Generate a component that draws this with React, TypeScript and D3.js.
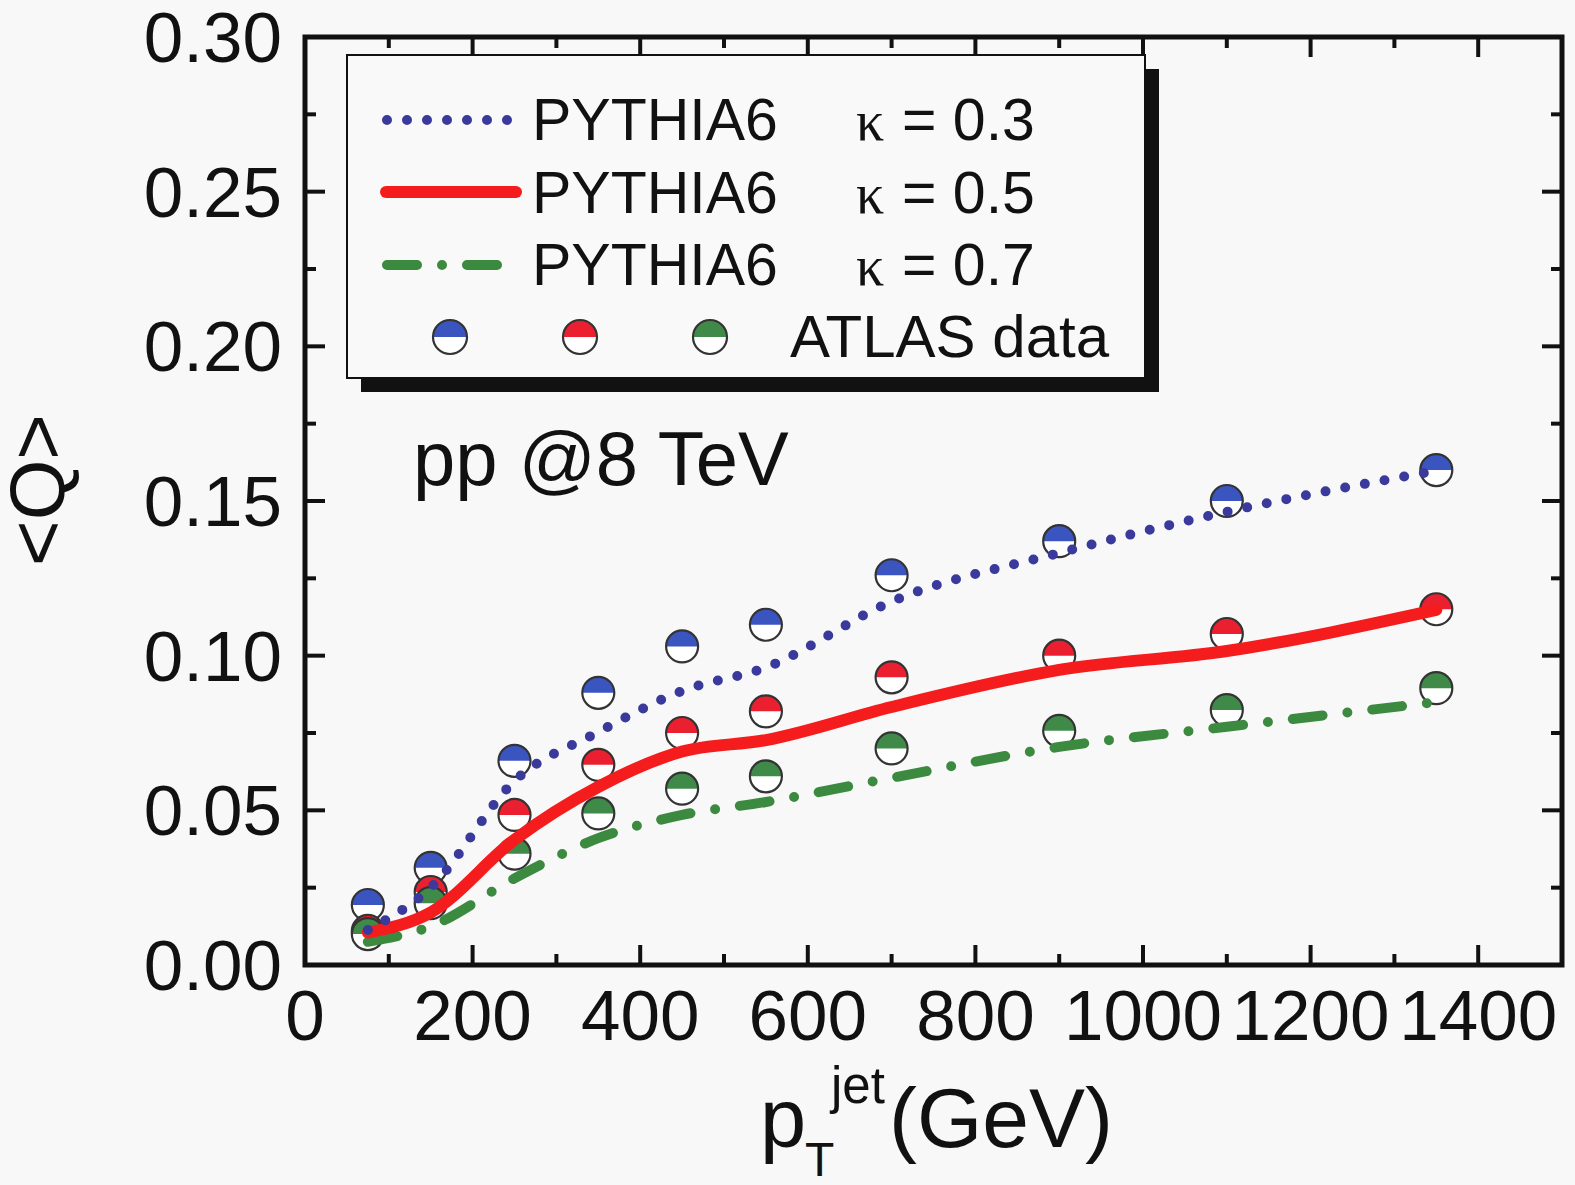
import React from "react";
import * as d3 from "d3";

const ptJet = [75, 150, 250, 350, 450, 550, 700, 900, 1100, 1350];
const atlasK03 = [0.0194, 0.0314, 0.066, 0.088, 0.103, 0.110, 0.126, 0.137, 0.150, 0.160];
const atlasK05 = [0.011, 0.0236, 0.0485, 0.0647, 0.075, 0.082, 0.093, 0.100, 0.107, 0.115];
const atlasK07 = [0.010, 0.020, 0.036, 0.049, 0.057, 0.061, 0.070, 0.0757, 0.0824, 0.0895];

const pythiaK03 = [0.0113, 0.025, 0.0595, 0.0753, 0.0886, 0.0962, 0.1175, 0.1332, 0.1465, 0.1598];
const pythiaK05 = [0.0105, 0.017, 0.0405, 0.0576, 0.069, 0.0727, 0.0834, 0.0954, 0.1015, 0.1148];
const pythiaK07 = [0.0075, 0.0125, 0.028, 0.041, 0.0485, 0.0527, 0.0605, 0.0705, 0.077, 0.085];

const xMajor = [0, 200, 400, 600, 800, 1000, 1200, 1400];
const xMinor = [100, 300, 500, 700, 900, 1100, 1300, 1500];
const yMajor = [0, 0.05, 0.1, 0.15, 0.2, 0.25, 0.3];
const yMinor = [0.025, 0.075, 0.125, 0.175, 0.225, 0.275];
const kappas = ["0.3", "0.5", "0.7"];

const FONT = "'Liberation Sans', Arial, sans-serif";
const BG = "#f8f8f8";

const x = d3.scaleLinear().domain([0, 1500]).range([305, 1562]);
const y = d3.scaleLinear().domain([0, 0.3]).range([965, 37]);

const blueLine = "#3a3a9c";
const redLine = "#f41c1c";
const greenLine = "#3c8a40";
const blueMk = "#3b55c0";
const redMk = "#ea2030";
const greenMk = "#3f8a48";

function Marker({ cx, cy, r, color }: { cx: number; cy: number; r: number; color: string }) {
  const top = `M${cx - r},${cy} A${r},${r} 0 0 1 ${cx + r},${cy} Z`;
  return (
    <g>
      <circle cx={cx} cy={cy} r={r} fill="#ffffff" />
      <path d={top} fill={color} />
      <circle cx={cx} cy={cy} r={r} fill="none" stroke="#333" strokeWidth={2.2} />
    </g>
  );
}

export default function App() {
  const line = d3
    .line<number>()
    .x((_, i) => x(ptJet[i]))
    .y((d) => y(d))
    .curve(d3.curveMonotoneX);

  const left = x(0), right = x(1500), top = y(0.3), bottom = y(0);
  const majL = 20, minL = 11;

  return (
    <svg width={1575} height={1185} style={{ position: "absolute", left: 0, top: 0 }}>
      <rect x={0} y={0} width={1575} height={1185} fill={BG} />

      {/* data markers */}
      {ptJet.map((p, i) => (
        <Marker key={"b" + i} cx={x(p)} cy={y(atlasK03[i])} r={16} color={blueMk} />
      ))}
      {ptJet.map((p, i) => (
        <Marker key={"r" + i} cx={x(p)} cy={y(atlasK05[i])} r={16} color={redMk} />
      ))}
      {ptJet.map((p, i) => (
        <Marker key={"g" + i} cx={x(p)} cy={y(atlasK07[i])} r={16} color={greenMk} />
      ))}

      {/* model curves */}
      <path d={line(pythiaK07) || ""} fill="none" stroke={greenLine} strokeWidth={10}
        strokeDasharray="30 25 0 25" strokeLinecap="round" />
      <path d={line(pythiaK05) || ""} fill="none" stroke={redLine} strokeWidth={12}
        strokeLinecap="round" strokeLinejoin="round" />
      <path d={line(pythiaK03) || ""} fill="none" stroke={blueLine} strokeWidth={10}
        strokeDasharray="0 20" strokeLinecap="round" />

      {/* ticks */}
      {xMajor.map((v) => (
        <g key={"xM" + v}>
          <line x1={x(v)} x2={x(v)} y1={bottom} y2={bottom - majL} stroke="#111" strokeWidth={4} />
          <line x1={x(v)} x2={x(v)} y1={top} y2={top + majL} stroke="#111" strokeWidth={4} />
        </g>
      ))}
      {xMinor.map((v) => (
        <g key={"xm" + v}>
          <line x1={x(v)} x2={x(v)} y1={bottom} y2={bottom - minL} stroke="#111" strokeWidth={4} />
          <line x1={x(v)} x2={x(v)} y1={top} y2={top + minL} stroke="#111" strokeWidth={4} />
        </g>
      ))}
      {yMajor.map((v) => (
        <g key={"yM" + v}>
          <line x1={left} x2={left + majL} y1={y(v)} y2={y(v)} stroke="#111" strokeWidth={4} />
          <line x1={right} x2={right - majL} y1={y(v)} y2={y(v)} stroke="#111" strokeWidth={4} />
        </g>
      ))}
      {yMinor.map((v) => (
        <g key={"ym" + v}>
          <line x1={left} x2={left + minL} y1={y(v)} y2={y(v)} stroke="#111" strokeWidth={4} />
          <line x1={right} x2={right - minL} y1={y(v)} y2={y(v)} stroke="#111" strokeWidth={4} />
        </g>
      ))}

      {/* frame */}
      <rect x={left} y={top} width={right - left} height={bottom - top} fill="none" stroke="#111" strokeWidth={5} />

      {/* tick labels */}
      {xMajor.map((v) => (
        <text key={"xl" + v} x={x(v)} y={1040} textAnchor="middle" fontFamily={FONT} fontSize={71} fill="#111">
          {String(v)}
        </text>
      ))}
      {yMajor.map((v) => (
        <text key={"yl" + v} x={282} y={y(v) + 25} textAnchor="end" fontFamily={FONT} fontSize={71} fill="#111">
          {v.toFixed(2)}
        </text>
      ))}

      {/* axis titles */}
      <text transform="translate(64,490) rotate(-90)" textAnchor="middle" fontFamily={FONT} fontSize={78} fill="#111">
        {"<Q>"}
      </text>
      <text x={760} y={1147} fontFamily={FONT} fontSize={83} fill="#111">p</text>
      <text x={805} y={1176} fontFamily={FONT} fontSize={48} fill="#111">T</text>
      <text x={831} y={1103} fontFamily={FONT} fontSize={51} fill="#111">jet</text>
      <text x={889} y={1147} fontFamily={FONT} fontSize={84} fill="#111">(GeV)</text>

      {/* annotation */}
      <text x={413} y={485} fontFamily={FONT} fontSize={76} fill="#111">pp @8 TeV</text>

      {/* legend */}
      <rect x={361} y={69} width={798} height={323} fill="#111" />
      <rect x={347} y={55} width={798} height={323} fill="#f9f9f9" stroke="#111" strokeWidth={2} />

      <line x1={387} x2={510} y1={120} y2={120} stroke={blueLine} strokeWidth={10} strokeDasharray="0 20" strokeLinecap="round" />
      <line x1={386} x2={516} y1={192} y2={192} stroke={redLine} strokeWidth={12} strokeLinecap="round" />
      <line x1={387} x2={500} y1={265} y2={265} stroke={greenLine} strokeWidth={10} strokeDasharray="30 25 0 25" strokeLinecap="round" />

      {kappas.map((k, i) => (
        <g key={"lg" + k}>
          <text x={532} y={140 + i * 72.5} fontFamily={FONT} fontSize={59} fill="#111">PYTHIA6</text>
          <text x={856} y={140 + i * 72.5} fontFamily="'Liberation Serif', 'Times New Roman', serif" fontSize={56} fill="#111">κ</text>
          <text x={902} y={140 + i * 72.5} fontFamily={FONT} fontSize={59} fill="#111">{"= " + k}</text>
        </g>
      ))}
      <Marker cx={450} cy={337} r={17} color={blueMk} />
      <Marker cx={580} cy={337} r={17} color={redMk} />
      <Marker cx={710} cy={337} r={17} color={greenMk} />
      <text x={790} y={357} fontFamily={FONT} fontSize={60} fill="#111">ATLAS data</text>
    </svg>
  );
}
